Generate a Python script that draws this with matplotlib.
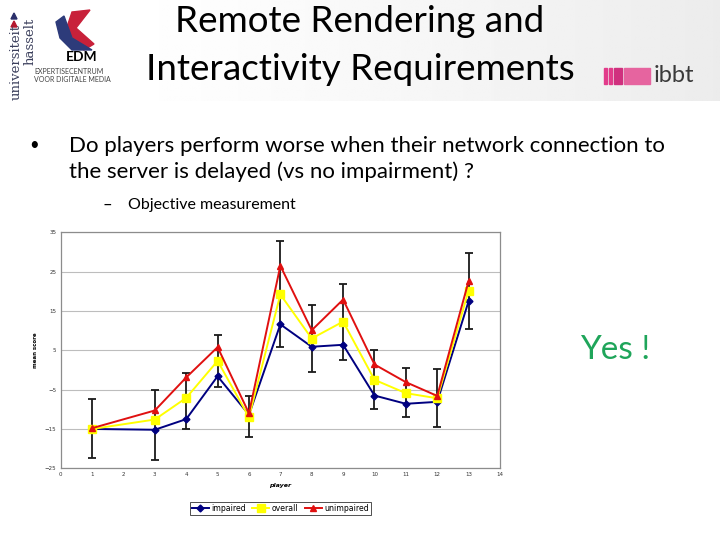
import numpy as np
import matplotlib.pyplot as plt
from matplotlib.patches import Polygon, Rectangle

# data
players = [1, 3, 4, 5, 6, 7, 8, 9, 10, 11, 12, 13]
impaired = [-15.0, -15.2, -12.5, -1.6, -11.4, 11.6, 5.9, 6.4, -6.5, -8.6, -8.1, 17.5]
overall = [-15.0, -12.6, -7.1, 2.3, -12.0, 19.2, 8.0, 12.3, -2.5, -5.9, -7.2, 20.2]
unimpaired = [-14.8, -10.3, -1.9, 5.8, -11.0, 26.5, 10.1, 17.9, 1.4, -3.1, -6.6, 22.6]
err_low = [-22.3, -22.9, -15.0, -4.4, -17.0, 5.8, -0.5, 2.6, -10.0, -12.0, -14.5, 10.4]
err_high = [-7.3, -5.2, -0.7, 8.8, -6.6, 32.9, 16.5, 21.9, 5.0, 0.4, 0.2, 29.7]
x_ticks = list(range(0, 15))
y_ticks = [-25, -15, -5, 5, 15, 25, 35]

title = "Remote Rendering and\nInteractivity Requirements"
bullet = "Do players perform worse when their network connection to\nthe server is delayed (vs no impairment) ?"
sub_bullet = "Objective measurement"

font = ["Lato", "DejaVu Sans"]

fig = plt.figure(figsize=(7.2, 5.4), dpi=100)

# slide background in pixel coordinates
bg = fig.add_axes([0, 0, 1, 1], zorder=0)
bg.set_xlim(0, 720)
bg.set_ylim(540, 0)
bg.axis("off")

# header band: white on the left fading smoothly to light grey
t = np.linspace(0, 1, 256)
grad = 1.0 - 0.075 * np.clip((t - 0.15) / 0.85, 0, 1) ** 1.2
bg.imshow(np.tile(grad, (10, 1)), cmap="gray", vmin=0, vmax=1,
          extent=[0, 720, 101, 0], aspect="auto", zorder=0)

# left logos (rough)
bg.text(16, 100, "universiteit", rotation=90, fontsize=9.5, family="DejaVu Serif",
        color="#3b3f5c", va="bottom", ha="center")
bg.text(30, 65, "hasselt", rotation=90, fontsize=9.5, family="DejaVu Serif",
        color="#3b3f5c", va="bottom", ha="center")
bg.add_patch(Polygon([[11, 19], [17, 19], [14, 13]], color="#2b2f6b"))
bg.add_patch(Polygon([[11, 27], [17, 27], [14, 21]], color="#b5172f"))
bg.add_patch(Polygon([[72, 12], [90, 10], [76, 28], [94, 44], [84, 50], [66, 30]],
                     color="#c8213a"))
bg.add_patch(Polygon([[56, 22], [64, 16], [72, 38], [92, 50], [72, 50], [60, 38]],
                     color="#2d3b7a"))
bg.text(66, 57, "EDM", fontsize=10, weight="bold", family=font, va="center")
bg.text(34, 71, "EXPERTISECENTRUM", fontsize=5, family=font, color="#444444", va="center")
bg.text(34, 79, "VOOR DIGITALE MEDIA", fontsize=5, family=font, color="#444444", va="center")

# ibbt logo (rough)
for i, (x0, w) in enumerate([(604, 3), (609, 3), (614, 8), (624, 26)]):
    bg.add_patch(Rectangle((x0, 68), w, 16, color=["#e23b8a", "#e23b8a", "#d0307e", "#e6649f"][i]))
bg.text(654, 76, "ibbt", fontsize=17, family=font, color="#3a3a3a", va="center")

# slide text
bg.text(360, 22, "Remote Rendering and", fontsize=26.5, family=font, ha="center",
        va="center", color="black")
bg.text(360, 70, "Interactivity Requirements", fontsize=26.5, family=font, ha="center",
        va="center", color="black")
bg.text(29, 145, "\u2022", fontsize=12, family=font, va="center")
bg.text(69, 159, bullet, fontsize=16, family=font, va="center", linespacing=1.35)
bg.text(102, 205, "\u2013", fontsize=12, family=font, va="center")
bg.text(128, 205, sub_bullet, fontsize=11.5, family=font, va="center")
bg.text(615, 350, "Yes !", fontsize=24, family=font, color="#1fa55a",
        ha="center", va="center")

# chart
ax = fig.add_axes([60.7 / 720, 1 - 468.3 / 540, (500 - 60.7) / 720, (468.3 - 232.3) / 540],
                  zorder=2)
ax.set_facecolor("white")
ax.set_xlim(0, 14)
ax.set_ylim(-25, 35)
ax.set_xticks(x_ticks)
ax.set_yticks(y_ticks)
ax.tick_params(labelsize=4, length=0, pad=3, colors="#333333")
ax.grid(axis="y", color="#bdbdbd", lw=0.8)
ax.set_axisbelow(True)
for s in ax.spines.values():
    s.set_color("#8c8c8c")
    s.set_linewidth(0.9)

yerr = [np.array(overall) - np.array(err_low), np.array(err_high) - np.array(overall)]
ax.errorbar(players, overall, yerr=yerr, fmt="none", ecolor="#1a1a1a",
            elinewidth=1.3, capsize=3, capthick=1.3, zorder=2)
ax.plot(players, impaired, color="#000080", marker="D", ms=3.5, lw=1.4,
        label="impaired", zorder=3)
ax.plot(players, overall, color="#ffff00", marker="s", ms=6, lw=1.4,
        label="overall", zorder=4)
ax.plot(players, unimpaired, color="#e01010", marker="^", ms=5, lw=1.4,
        label="unimpaired", zorder=5)

ax.set_ylabel("mean score", fontsize=4, weight="bold", labelpad=5)
ax.set_xlabel("player", fontsize=4.5, weight="bold", style="italic", labelpad=4)

leg = ax.legend(loc="upper center", bbox_to_anchor=(0.5, -0.125), ncol=3,
                fontsize=5.6, frameon=True, fancybox=False, edgecolor="black",
                handlelength=2.2, columnspacing=0.8, handletextpad=0.3,
                borderpad=0.25)
leg.get_frame().set_linewidth(0.6)

fig.savefig("out.png", dpi=100)
